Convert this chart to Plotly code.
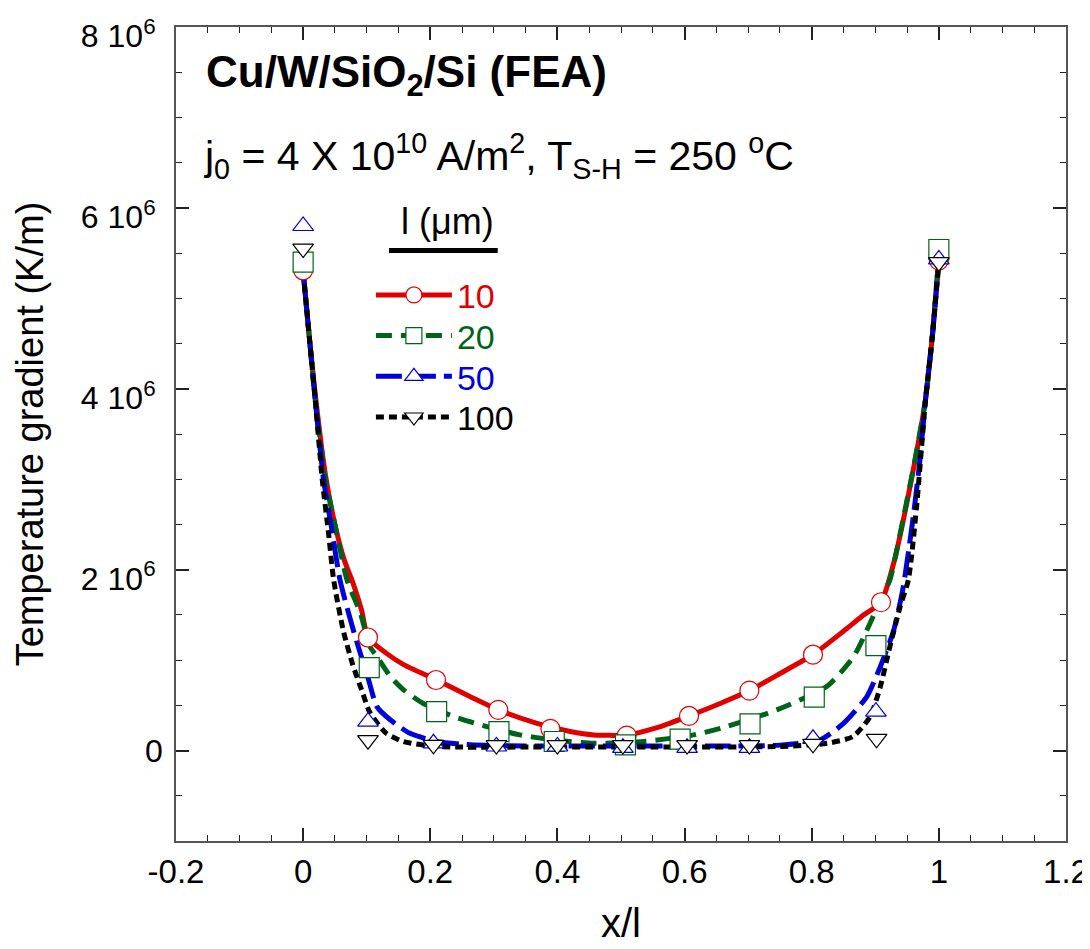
import plotly.graph_objects as go

# x/l positions and temperature gradient (K/m)
# markers (FEA sample points)
mx_10 = [0, 0.102, 0.209, 0.307, 0.389, 0.509, 0.607, 0.702, 0.802, 0.909, 1.0]
my_10 = [5.31e6, 1.25e6, 0.78e6, 0.45e6, 0.24e6, 0.166e6, 0.383e6, 0.663e6, 1.06e6, 1.64e6, 5.42e6]
mx_20 = [0, 0.104, 0.21, 0.308, 0.395, 0.507, 0.593, 0.703, 0.804, 0.901, 1.0]
my_20 = [5.40e6, 0.917e6, 0.431e6, 0.21e6, 0.10e6, 0.063e6, 0.126e6, 0.295e6, 0.59e6, 1.16e6, 5.54e6]
mx_50 = [0, 0.102, 0.205, 0.304, 0.40, 0.503, 0.604, 0.702, 0.802, 0.901, 1.0]
my_50 = [5.80e6, 0.32e6, 0.08e6, 0.045e6, 0.045e6, 0.03e6, 0.03e6, 0.03e6, 0.13e6, 0.43e6, 5.43e6]
mx_100 = [0, 0.102, 0.205, 0.304, 0.40, 0.503, 0.604, 0.702, 0.802, 0.902, 1.0]
my_100 = [5.55e6, 0.115e6, 0.063e6, 0.06e6, 0.06e6, 0.06e6, 0.06e6, 0.06e6, 0.074e6, 0.13e6, 5.40e6]

# curves
lx_10 = [0, 0.01, 0.02, 0.035, 0.05, 0.065, 0.078, 0.092, 0.102, 0.13, 0.158, 0.21, 0.263,
         0.307, 0.368, 0.42, 0.457, 0.509, 0.562, 0.607, 0.656, 0.702, 0.751, 0.802, 0.85,
         0.88, 0.909, 0.93, 0.95, 0.965, 0.979, 0.99, 1.0]
ly_10 = [5.30e6, 4.55e6, 3.88e6, 3.05e6, 2.5e6, 2.1e6, 1.86e6, 1.55e6, 1.25e6, 1.08e6, 0.95e6,
         0.78e6, 0.595e6, 0.45e6, 0.30e6, 0.21e6, 0.173e6, 0.173e6, 0.265e6, 0.383e6, 0.52e6,
         0.663e6, 0.855e6, 1.06e6, 1.32e6, 1.49e6, 1.64e6, 2.1e6, 2.75e6, 3.3e6, 3.88e6, 4.6e6, 5.4e6]
lx_20 = [0, 0.01, 0.019, 0.035, 0.05, 0.069, 0.09, 0.105, 0.116, 0.137, 0.158, 0.189, 0.237,
         0.289, 0.341, 0.394, 0.457, 0.535, 0.614, 0.666, 0.745, 0.824, 0.866, 0.892, 0.913,
         0.923, 0.945, 0.962, 0.979, 0.99, 1.0]
ly_20 = [5.30e6, 4.55e6, 3.88e6, 3.0e6, 2.5e6, 1.886e6, 1.52e6, 1.15e6, 1.04e6, 0.82e6, 0.67e6,
         0.52e6, 0.376e6, 0.265e6, 0.173e6, 0.118e6, 0.08e6, 0.10e6, 0.173e6, 0.265e6, 0.45e6,
         0.71e6, 1.04e6, 1.41e6, 1.74e6, 1.886e6, 2.6e6, 3.2e6, 3.88e6, 4.6e6, 5.5e6]
lx_50 = [0, 0.01, 0.019, 0.032, 0.045, 0.058, 0.079, 0.103, 0.116, 0.137, 0.168, 0.21, 0.263,
         0.35, 0.5, 0.65, 0.75, 0.813, 0.85, 0.887, 0.908, 0.929, 0.944, 0.96, 0.97, 0.979, 0.99, 1.0]
ly_50 = [5.30e6, 4.55e6, 3.88e6, 3.0e6, 2.45e6, 1.886e6, 1.33e6, 0.78e6, 0.486e6, 0.34e6, 0.19e6,
         0.10e6, 0.063e6, 0.05e6, 0.05e6, 0.05e6, 0.06e6, 0.118e6, 0.30e6, 0.60e6, 0.93e6, 1.33e6,
         1.81e6, 2.6e6, 3.2e6, 3.88e6, 4.6e6, 5.45e6]
lx_100 = [0, 0.01, 0.019, 0.03, 0.04, 0.048, 0.063, 0.078, 0.092, 0.105, 0.13, 0.157, 0.21,
          0.4, 0.6, 0.75, 0.824, 0.865, 0.892, 0.908, 0.923, 0.939, 0.952, 0.965, 0.979, 0.99, 1.0]
ly_100 = [5.30e6, 4.55e6, 3.88e6, 3.0e6, 2.4e6, 1.886e6, 1.33e6, 0.95e6, 0.67e6, 0.42e6, 0.195e6,
          0.10e6, 0.045e6, 0.04e6, 0.04e6, 0.045e6, 0.08e6, 0.155e6, 0.376e6, 0.71e6, 1.15e6,
          1.59e6, 1.886e6, 2.7e6, 3.88e6, 4.6e6, 5.4e6]

lengths = ["10", "20", "50", "100"]
colors = ["#e00000", "#006418", "#0000dd", "#000000"]
symbols = ["circle", "square", "triangle-up", "triangle-down"]
dashes = ["solid", "16px,9px", "26px,8px", "8px,5px"]

x_ticks = [-0.2, 0, 0.2, 0.4, 0.6, 0.8, 1, 1.2]
x_ticktext = ["-0.2", "0", "0.2", "0.4", "0.6", "0.8", "1", "1.2"]
y_ticks = [0, 2e6, 4e6, 6e6, 8e6]
# "0" has no superscript, so it is placed on its own (see annotation below)
y_ticktext = ["", "2 10<sup>6</sup>", "4 10<sup>6</sup>", "6 10<sup>6</sup>", "8 10<sup>6</sup>"]

FONT = "Liberation Sans, Arial, sans-serif"

curves = [(lx_10, ly_10), (lx_20, ly_20), (lx_50, ly_50), (lx_100, ly_100)]
marks = [(mx_10, my_10), (mx_20, my_20), (mx_50, my_50), (mx_100, my_100)]
msizes = [19, 20, 18, 18]

fig = go.Figure()

for (lx, ly), col, dash in zip(curves, colors, dashes):
    fig.add_trace(go.Scatter(x=lx, y=ly, mode="lines", showlegend=False, hoverinfo="skip",
                             line=dict(color=col, width=5, dash=dash, shape="spline", smoothing=0.6)))

for (mx, my), col, sym, ms in zip(marks, colors, symbols, msizes):
    fig.add_trace(go.Scatter(x=mx, y=my, mode="markers", showlegend=False,
                             marker=dict(symbol=sym, size=ms, color="white",
                                         line=dict(color=col, width=1.2))))

# legend entries (line + marker together), one small legend per entry
legend_ids = ["legend", "legend2", "legend3", "legend4"]
for name, col, sym, dash, lid in zip(lengths, colors, symbols, dashes, legend_ids):
    fig.add_trace(go.Scatter(x=[None], y=[None], mode="lines+markers", legend=lid,
                             name="<span style='color:%s'>%s</span>" % (col, name),
                             line=dict(color=col, width=5, dash=dash),
                             marker=dict(symbol=sym, size=16, color="white",
                                         line=dict(color=col, width=1.2))))

legend_style = dict(x=0.219, xanchor="left", yanchor="top", bgcolor="rgba(0,0,0,0)",
                    font=dict(size=34), itemwidth=76)

fig.update_layout(
    width=1082, height=941,
    margin=dict(l=168, r=24, t=19, b=108),
    paper_bgcolor="white", plot_bgcolor="white",
    font=dict(family=FONT, size=33, color="black"),
    showlegend=True,
    legend=dict(y=0.706, **legend_style),
    legend2=dict(y=0.656, **legend_style),
    legend3=dict(y=0.606, **legend_style),
    legend4=dict(y=0.556, **legend_style),
    xaxis=dict(range=[-0.2, 1.2], tickmode="array", tickvals=x_ticks, ticktext=x_ticktext,
               ticks="inside", ticklen=13, tickwidth=1.5, tickcolor="#222", automargin=False,
               minor=dict(dtick=0.05, tick0=0, ticks="inside", ticklen=6, tickcolor="#222", tickwidth=1.2),
               showline=True, linecolor="#555", linewidth=2, mirror="allticks",
               showgrid=False, zeroline=False, ticklabelstandoff=0, tickfont=dict(size=33),
               ticklabeloverflow="allow",
               title=dict(text="x/l", font=dict(size=40), standoff=20)),
    yaxis=dict(range=[-1e6, 8e6], tickmode="array", tickvals=y_ticks, ticktext=y_ticktext,
               ticks="inside", ticklen=13, tickwidth=1.5, tickcolor="#222", automargin=False,
               minor=dict(dtick=0.5e6, tick0=0, ticks="inside", ticklen=6, tickcolor="#222", tickwidth=1.2),
               showline=True, linecolor="#555", linewidth=2, mirror="allticks",
               showgrid=False, zeroline=False, ticklabelstandoff=12, ticklabelshift=9,
               tickfont=dict(size=32), ticklabeloverflow="allow",
               title=dict(text="Temperature gradient (K/m)", font=dict(size=38), standoff=26)),
)

fig.add_annotation(xref="paper", yref="y", x=0, y=y_ticks[0], xanchor="right", yanchor="middle",
                   xshift=-11, showarrow=False, text="0", font=dict(size=32))
fig.add_annotation(xref="paper", yref="paper", x=0.031, y=0.941, xanchor="left", yanchor="middle",
                   showarrow=False, text="<b>Cu/W/SiO<sub>2</sub>/Si (FEA)</b>", font=dict(size=44))
fig.add_annotation(xref="paper", yref="paper", x=0.029, y=0.841, xanchor="left", yanchor="middle",
                   showarrow=False,
                   text="j<sub>0</sub> = 4 X 10<sup>10</sup> A/m<sup>2</sup>, T<sub>S-H</sub> = 250 <sup>o</sup>C",
                   font=dict(size=41))
fig.add_annotation(xref="paper", yref="paper", x=0.3056, y=0.7334, xanchor="center", yanchor="bottom",
                   showarrow=False, text="l (\u03bcm)", font=dict(size=36))
fig.add_shape(type="line", xref="paper", yref="paper", x0=0.2393, x1=0.3615, y0=0.7254, y1=0.7254,
              line=dict(color="black", width=5))

fig.write_html("out.html")
